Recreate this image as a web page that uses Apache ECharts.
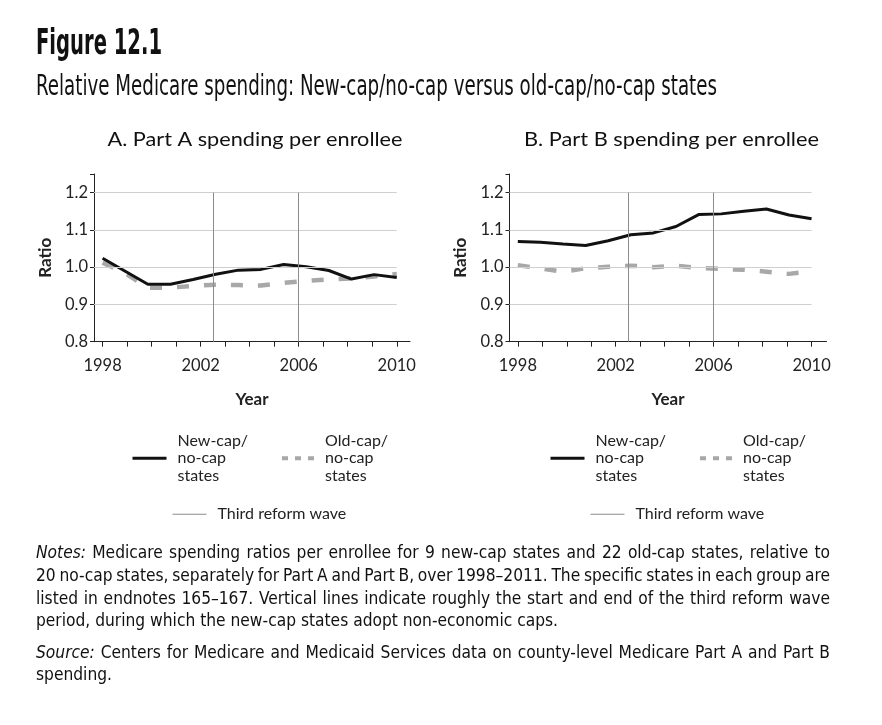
<!DOCTYPE html>
<html><head><meta charset="utf-8">
<script src="https://cdn.jsdelivr.net/npm/echarts@6/dist/echarts.min.js"></script>
<style>html,body{margin:0;padding:0;background:#fff}#c{width:882px;height:725px}</style>
</head><body><div id="c"></div>
<script>
// ---------------- data ----------------
const years = [1998,1999,2000,2001,2002,2003,2004,2005,2006,2007,2008,2009,2010,2011];
const partANewCap = [1.024,0.989,0.954,0.954,0.967,0.981,0.992,0.994,1.007,1.001,0.991,0.968,0.980,0.972];
const partAOldCap = [1.012,0.984,0.945,0.945,0.950,0.953,0.952,0.951,0.958,0.963,0.967,0.970,0.975,0.982];
const partBNewCap = [1.069,1.067,1.062,1.058,1.071,1.087,1.092,1.109,1.141,1.143,1.150,1.156,1.140,1.130];
const partBOldCap = [1.005,0.997,0.988,0.997,1.001,1.004,1.000,1.004,0.998,0.995,0.993,0.988,0.982,0.989];
const reformWaveYears = [2002.5, 2006];
const xTickYears = [1998,1999,2000,2001,2002,2003,2004,2005,2006,2007,2008,2009,2010];
const xLabelYears = [1998, 2002, 2006, 2010];
const yLabelValues = [0.8, 0.9, 1.0, 1.1, 1.2];
const gridValues = [0.9, 1.0, 1.1, 1.2];
const seriesNames = ['New-cap/no-cap states', 'Old-cap/no-cap states', 'Third reform wave'];
const legendLabels = ['New-cap/\nno-cap\nstates', 'Old-cap/\nno-cap\nstates', 'Third reform wave'];
const panelTitles = ['A. Part A spending per enrollee', 'B. Part B spending per enrollee'];
const axisNames = ['Year', 'Ratio'];
const figureTitle = 'Figure 12.1';
const figureSubtitle = 'Relative Medicare spending: New-cap/no-cap versus old-cap/no-cap states';
const notesLines = [
  ['Notes:', ' Medicare spending ratios per enrollee for 9 new-cap states and 22 old-cap states, relative to', true],
  ['', '20 no-cap states, separately for Part A and Part B, over 1998\u20132011. The specific states in each group are', true],
  ['', 'listed in endnotes 165\u2013167. Vertical lines indicate roughly the start and end of the third reform wave', true],
  ['', 'period, during which the new-cap states adopt non-economic caps.', false],
  ['Source:', ' Centers for Medicare and Medicaid Services data on county-level Medicare Part A and Part B', true],
  ['', 'spending.', false]
];

// ---------------- layout / style ----------------
const NARROW = '"Liberation Sans Narrow","DejaVu Sans Condensed",sans-serif';
const SANS = 'Lato,"Open Sans",sans-serif';
const panels = [
  { left: 94, width: 316, xMin: 1997.65, xMax: 2010.54, newVals: partANewCap, oldVals: partAOldCap, legendLeft: [131, 280, 172], titleX: 255 },
  { left: 509.5, width: 317, xMin: 1997.66, xMax: 2010.61, newVals: partBNewCap, oldVals: partBOldCap, legendLeft: [549, 698, 590], titleX: 671.5 }
];
const GRID_TOP = 174, GRID_H = 167.7, Y_MIN = 0.8, Y_MAX = 1.25;
const firstYear = years[0], lastTick = xTickYears[xTickYears.length - 1];
const stretch = (years.length - 1) / (lastTick - firstYear); // 14 points span the 1998-2010 tick range

const canvas = document.createElement('canvas');
const ctx = canvas.getContext('2d');
function measure(text, font) { ctx.font = font; return ctx.measureText(text).width; }

const grid = [], xAxis = [], yAxis = [], series = [], legend = [], graphic = [];
const hiddenSymbol = { opacity: 0, color: 'rgba(0,0,0,0)', borderWidth: 0 };

panels.forEach((p, k) => {
  grid.push({ left: p.left, top: GRID_TOP, width: p.width, height: GRID_H, containLabel: false });
  xAxis.push({
    type: 'value', gridIndex: k, min: p.xMin, max: p.xMax,
    name: axisNames[0], nameLocation: 'middle', nameGap: 49,
    nameTextStyle: { fontFamily: SANS, fontSize: 17, fontWeight: 'bold', color: '#222' },
    axisLine: { show: true, lineStyle: { color: '#222', width: 1 } },
    axisTick: { show: true, customValues: xTickYears, length: 5, lineStyle: { color: '#222' } },
    axisLabel: { customValues: xLabelYears, fontFamily: SANS, fontSize: 16.5, color: '#222', margin: 15, formatter: v => String(v) },
    splitLine: { show: false }
  });
  xAxis.push({
    type: 'value', gridIndex: k, show: false,
    min: firstYear + (p.xMin - firstYear) * stretch,
    max: firstYear + (p.xMax - firstYear) * stretch
  });
  yAxis.push({
    type: 'value', gridIndex: k, min: Y_MIN, max: Y_MAX, interval: 0.1,
    name: axisNames[1], nameLocation: 'middle', nameGap: 40, nameRotate: 90,
    nameTextStyle: { fontFamily: SANS, fontSize: 17, fontWeight: 'bold', color: '#222' },
    axisLine: { show: true, lineStyle: { color: '#222', width: 1 } },
    axisTick: { show: true, length: 4, lineStyle: { color: '#222' } },
    axisLabel: { customValues: yLabelValues, fontFamily: SANS, fontSize: 16.5, color: '#222', margin: 6, formatter: v => v.toFixed(1) },
    splitLine: { show: false }
  });
  // gridlines
  series.push({
    type: 'line', name: 'gridlines', xAxisIndex: 2 * k, yAxisIndex: k, data: [], silent: true, z: 1,
    markLine: {
      silent: true, symbol: ['none', 'none'], label: { show: false }, animation: false,
      lineStyle: { color: '#cfcfcf', width: 1, type: 'solid' },
      data: gridValues.map(v => [{ coord: [p.xMin, v] }, { coord: [lastTick, v] }])
    }
  });
  // reform wave lines
  series.push({
    type: 'line', name: seriesNames[2], xAxisIndex: 2 * k, yAxisIndex: k, data: [], symbol: 'none', z: 2,
    color: '#8c8c8c', lineStyle: { color: '#8c8c8c', width: 1 },
    markLine: {
      silent: true, symbol: ['none', 'none'], label: { show: false }, animation: false,
      lineStyle: { color: '#8c8c8c', width: 1, type: 'solid' },
      data: reformWaveYears.map(y => [{ coord: [y, Y_MIN] }, { coord: [y, gridValues[gridValues.length - 1]] }])
    }
  });
  series.push({
    type: 'line', name: seriesNames[1], xAxisIndex: 2 * k + 1, yAxisIndex: k, z: 3,
    data: years.map((y, i) => [y, p.oldVals[i]]), symbol: 'none', animation: false,
    color: '#a8a8a8', lineStyle: { color: '#a8a8a8', width: 4.5, type: [12, 15] }
  });
  series.push({
    type: 'line', name: seriesNames[0], xAxisIndex: 2 * k + 1, yAxisIndex: k, z: 4,
    data: years.map((y, i) => [y, p.newVals[i]]), symbol: 'none', animation: false,
    color: '#111', lineStyle: { color: '#111', width: 3 }
  });
  const lt = { fontFamily: SANS, fontSize: 16, color: '#222', lineHeight: 17.5, padding: [0, 0, 0, 6] };
  legend.push({ left: p.legendLeft[0], top: 432, padding: 0, itemWidth: 34, itemHeight: 12, selectedMode: false,
    data: [seriesNames[0]], formatter: () => legendLabels[0], textStyle: lt, itemStyle: hiddenSymbol, lineStyle: { width: 3 } });
  legend.push({ left: p.legendLeft[1], top: 432, padding: 0, itemWidth: 32, itemHeight: 12, selectedMode: false,
    data: [seriesNames[1]], formatter: () => legendLabels[1], textStyle: lt, itemStyle: hiddenSymbol, lineStyle: { width: 4, type: [6, 7] } });
  legend.push({ left: p.legendLeft[2], top: 505.5, padding: 0, itemWidth: 34, itemHeight: 12, selectedMode: false,
    data: [seriesNames[2]], formatter: () => legendLabels[2], textStyle: lt, itemStyle: hiddenSymbol, lineStyle: { width: 1 } });
  // panel title
  const tf = '19px ' + SANS;
  graphic.push({ type: 'text', x: p.titleX, y: 140, scaleX: 295 / measure(panelTitles[k], tf),
    style: { text: panelTitles[k], fontFamily: SANS, fontSize: 19, fill: '#111', align: 'center', verticalAlign: 'middle' } });
});

// figure title and subtitle
graphic.push({ type: 'text', x: 36, y: 45, scaleX: 126 / measure(figureTitle, 'bold 36px ' + NARROW),
  style: { text: figureTitle, fontFamily: NARROW, fontSize: 36, fontWeight: 'bold', fill: '#111', align: 'left', verticalAlign: 'middle' } });
graphic.push({ type: 'text', x: 36, y: 87, scaleX: 681 / measure(figureSubtitle, '29px ' + NARROW),
  style: { text: figureSubtitle, fontFamily: NARROW, fontSize: 29, fill: '#111', align: 'left', verticalAlign: 'middle' } });

// notes (justified word by word)
const notesY = [553, 576, 599, 621, 653, 675];
const NF = 18;
const NFONT = NF + 'px ' + NARROW, IFONT = 'italic ' + NF + 'px ' + NARROW;
function splitWords(l) {
  const w = [];
  if (l[0]) w.push({ t: l[0], it: true });
  l[1].trim().split(' ').forEach(t => w.push({ t, it: false }));
  return w;
}
const spaceW = measure(' ', NFONT);
const refWords = splitWords(notesLines[3]);
const refW = refWords.reduce((a, w) => a + measure(w.t, NFONT), 0) + spaceW * (refWords.length - 1);
const noteScale = 522 / refW;
notesLines.forEach((l, i) => {
  const ws = splitWords(l);
  const widths = ws.map(w => measure(w.t, w.it ? IFONT : NFONT) * noteScale);
  const total = widths.reduce((a, b) => a + b, 0);
  const gap = l[2] ? (794 - total) / (ws.length - 1) : spaceW * noteScale;
  let x = 36;
  ws.forEach((w, j) => {
    graphic.push({ type: 'text', x, y: notesY[i], scaleX: noteScale, silent: true,
      style: { text: w.t, fontFamily: NARROW, fontSize: NF, fontStyle: w.it ? 'italic' : 'normal', fill: '#111', align: 'left', verticalAlign: 'middle' } });
    x += widths[j] + gap;
  });
});

const chart = echarts.init(document.getElementById('c'), null, { renderer: 'canvas' });
chart.setOption({ backgroundColor: '#fff', animation: false, grid, xAxis, yAxis, series, legend, graphic });
</script></body></html>
